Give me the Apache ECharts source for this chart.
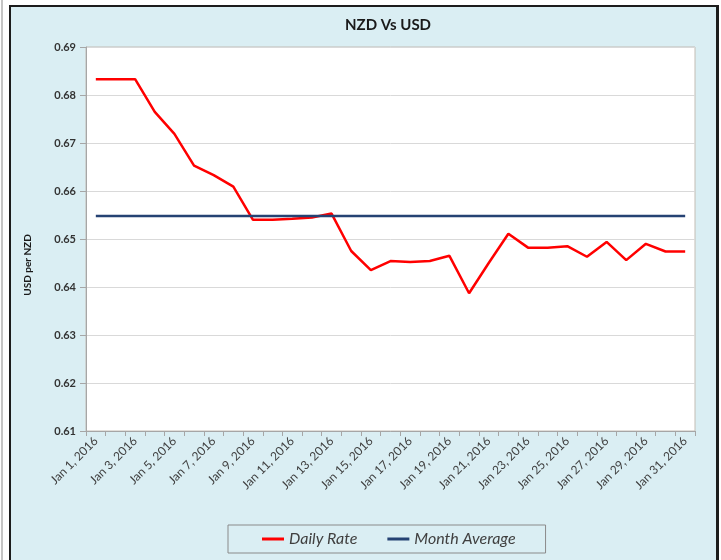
<!DOCTYPE html>
<html>
<head>
<meta charset="utf-8">
<title>NZD Vs USD</title>
<script src="https://cdn.jsdelivr.net/npm/echarts@6/dist/echarts.min.js"></script>
<style>
  html, body { margin: 0; padding: 0; background: #fff; }
  .edge { position: absolute; left: 1px; top: 0; width: 2px; height: 560px; background: #c4c4c4; }
  .frame {
    position: absolute; left: 9px; top: 5px; width: 705px; height: 553px;
    background: #daeef3;
    border-left: 2px solid #1c1c1c; border-top: 2px solid #1c1c1c;
    border-right: 3px solid #1c1c1c; border-bottom: 2px solid #c9cdd0;
  }
  #chart { position: absolute; left: 0; top: 0; width: 721px; height: 560px; }
</style>
</head>
<body>
<div class="edge"></div>
<div class="frame"></div>
<div id="chart"></div>
<script>
// January 2016, one category per day
const days = [
  'Jan 1, 2016', 'Jan 2, 2016', 'Jan 3, 2016', 'Jan 4, 2016', 'Jan 5, 2016',
  'Jan 6, 2016', 'Jan 7, 2016', 'Jan 8, 2016', 'Jan 9, 2016', 'Jan 10, 2016',
  'Jan 11, 2016', 'Jan 12, 2016', 'Jan 13, 2016', 'Jan 14, 2016', 'Jan 15, 2016',
  'Jan 16, 2016', 'Jan 17, 2016', 'Jan 18, 2016', 'Jan 19, 2016', 'Jan 20, 2016',
  'Jan 21, 2016', 'Jan 22, 2016', 'Jan 23, 2016', 'Jan 24, 2016', 'Jan 25, 2016',
  'Jan 26, 2016', 'Jan 27, 2016', 'Jan 28, 2016', 'Jan 29, 2016', 'Jan 30, 2016',
  'Jan 31, 2016'
]

// USD per NZD
const dailyRate = [
  0.6833, 0.6833, 0.6833, 0.6765, 0.6719, 0.6653, 0.6633, 0.6609, 0.6540, 0.6540,
  0.6542, 0.6545, 0.6553, 0.6475, 0.6435, 0.6454, 0.6452, 0.6454, 0.6465, 0.6387,
  0.6450, 0.6511, 0.6482, 0.6482, 0.6485, 0.6463, 0.6494, 0.6456, 0.6490, 0.6474,
  0.6474
]

const monthAverage = [
  0.6548, 0.6548, 0.6548, 0.6548, 0.6548, 0.6548, 0.6548, 0.6548, 0.6548, 0.6548,
  0.6548, 0.6548, 0.6548, 0.6548, 0.6548, 0.6548, 0.6548, 0.6548, 0.6548, 0.6548,
  0.6548, 0.6548, 0.6548, 0.6548, 0.6548, 0.6548, 0.6548, 0.6548, 0.6548, 0.6548,
  0.6548
]

const yMin = 0.61
const yMax = 0.69
const yStep = 0.01

const font = 'Lato, "Open Sans", sans-serif'
const chart = echarts.init(document.getElementById('chart'))

const option = {
  backgroundColor: 'transparent',
  animation: false,
  textStyle: { fontFamily: font },
  title: {
    text: 'NZD Vs USD',
    left: 340,
    top: 13,
    textStyle: { fontFamily: font, fontSize: 15, fontWeight: 'bold', color: '#1a1a1a' }
  },
  grid: {
    left: 86,
    right: 26,
    top: 47,
    bottom: 129,
    show: true,
    backgroundColor: '#fff',
    borderColor: '#c3bdb4',
    borderWidth: 1
  },
  legend: {
    left: 228,
    top: 525,
    padding: [6, 30, 6, 34],
    itemGap: 30,
    itemWidth: 22,
    itemHeight: 3,
    icon: 'rect',
    borderColor: '#8a8a8a',
    borderWidth: 1,
    backgroundColor: '#daeef3',
    textStyle: { fontFamily: font, fontSize: 16, fontStyle: 'italic', color: '#404040' },
    data: ['Daily Rate', 'Month Average']
  },
  xAxis: {
    type: 'category',
    data: days,
    boundaryGap: true,
    axisLine: { lineStyle: { color: '#a6a6a6' } },
    axisTick: { show: true, interval: 0, length: 5, lineStyle: { color: '#a6a6a6' } },
    axisLabel: {
      interval: 1,
      rotate: 45,
      margin: 8,
      fontFamily: font,
      fontSize: 12,
      color: '#404040'
    },
    splitLine: { show: false }
  },
  yAxis: {
    type: 'value',
    min: yMin,
    max: yMax,
    interval: yStep,
    axisLine: { show: true, lineStyle: { color: '#a6a6a6' } },
    axisTick: { show: true, length: 6, lineStyle: { color: '#a6a6a6' } },
    axisLabel: {
      margin: 10,
      fontFamily: font,
      fontSize: 11,
      fontWeight: 'bold',
      color: '#333',
      formatter: (v) => v.toFixed(2)
    },
    splitLine: { show: true, lineStyle: { color: '#d9d9d9', width: 1 } }
  },
  graphic: [
    {
      type: 'text',
      x: 28,
      y: 265,
      rotation: Math.PI / 2,
      style: {
        text: 'USD per NZD',
        fontFamily: font,
        fontSize: 10,
        fontWeight: 'bold',
        fill: '#1a1a1a',
        textAlign: 'center',
        textVerticalAlign: 'middle'
      }
    }
  ],
  series: [
    {
      name: 'Daily Rate',
      type: 'line',
      data: dailyRate,
      symbol: 'none',
      color: '#ff0000',
      lineStyle: { color: '#ff0000', width: 2.5 }
    },
    {
      name: 'Month Average',
      type: 'line',
      data: monthAverage,
      symbol: 'none',
      color: '#254273',
      lineStyle: { color: '#254273', width: 2.5 }
    }
  ]
}

chart.setOption(option)
</script>
</body>
</html>
